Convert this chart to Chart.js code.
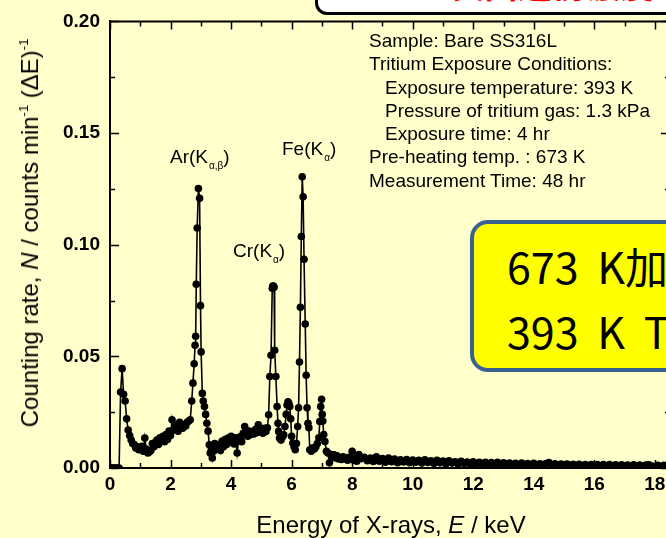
<!DOCTYPE html>
<html>
<head>
<meta charset="utf-8">
<script src="https://cdn.jsdelivr.net/npm/chart.js@4.4.1/dist/chart.umd.min.js"></script>
<style>
  body { margin: 0; background: #ffffcc; overflow: hidden; }
  #wrap { position: relative; width: 666px; height: 538px; overflow: hidden; background: #ffffcc; font-family: "Liberation Sans", Arial, sans-serif; }
  #c { position: absolute; left: 0; top: 0; }
  .lbl { position: absolute; white-space: nowrap; color: #000; font-size: 19px; line-height: 19px; }
  .lbl sub { font-size: 10px; vertical-align: -6px; margin-left: 1px; }
  #info { position: absolute; left: 369px; top: 29px; font-size: 19px; line-height: 23.3px; white-space: nowrap; }
  #info .in { padding-left: 16px; }
  #ytitle { position: absolute; left: 30px; top: 233px; transform: translate(-50%, -50%) rotate(-90deg); font-size: 24px; white-space: nowrap; }
  #ytitle sup { font-size: 13px; vertical-align: 10px; }
  #xtitle { position: absolute; left: 391px; top: 525px; transform: translate(-50%, -50%); font-size: 24px; white-space: nowrap; }
  #topbox { position: absolute; left: 315px; top: -40px; width: 420px; height: 55px; box-sizing: border-box; border: 3px solid #000; border-radius: 12px; background: #fff; }
  #topbox span { position: absolute; left: 132px; top: 4px; color: #f00; font: bold 34px/34px "Noto Sans CJK JP", sans-serif; white-space: nowrap; }
  #note { position: absolute; left: 470px; top: 220px; width: 260px; height: 152px; box-sizing: border-box; border: 4px solid #3c6190; border-radius: 18px; background: #ffff00; }
  #note div { position: absolute; left: 33px; font: 43px/43px "Noto Sans CJK JP", sans-serif; word-spacing: 9px; white-space: nowrap; color: #000; }
</style>
</head>
<body>
<div id="wrap">
  <canvas id="c" width="700" height="538"></canvas>

  <div id="topbox"><span>表面近傍濃度</span></div>

  <div id="info">
    Sample: Bare SS316L<br>
    Tritium Exposure Conditions:<br>
    <span class="in">Exposure temperature: 393 K</span><br>
    <span class="in">Pressure of tritium gas: 1.3 kPa</span><br>
    <span class="in">Exposure time: 4 hr</span><br>
    Pre-heating temp. : 673 K<br>
    Measurement Time: 48 hr
  </div>

  <div class="lbl" style="left:170px; top:147px;">Ar(K<sub>α,β</sub>)</div>
  <div class="lbl" style="left:282px; top:139px;">Fe(K<sub>α</sub>)</div>
  <div class="lbl" style="left:233px; top:241px;">Cr(K<sub>α</sub>)</div>

  <div id="note">
    <div style="top:20px;">673 K加熱後</div>
    <div style="top:85px;">393 K T-曝露</div>
  </div>

  <div id="ytitle">Counting rate, <i>N</i> / counts min<sup>-1</sup> (ΔE)<sup>-1</sup></div>
  <div id="xtitle">Energy of X-rays, <i>E</i> / keV</div>
</div>

<script>
// X-ray spectrum, energy (keV) and counting rate
const energy = [
  0.00, 0.05, 0.10, 0.15, 0.20, 0.25, 0.30, 0.35, 0.40, 0.45, 0.50, 0.55, 0.60, 0.65, 0.70, 0.75, 0.80, 0.85, 0.90, 0.95,
  1.00, 1.05, 1.10, 1.15, 1.20, 1.25, 1.30, 1.35, 1.40, 1.45, 1.50, 1.55, 1.60, 1.65, 1.70, 1.75, 1.80, 1.85, 1.90, 1.95,
  2.00, 2.05, 2.10, 2.15, 2.20, 2.25, 2.30, 2.35, 2.40, 2.45, 2.50, 2.55, 2.60, 2.65, 2.70, 2.74, 2.78, 2.81, 2.83, 2.85,
  2.88, 2.92, 2.96, 2.99, 3.01, 3.05, 3.08, 3.12, 3.16, 3.20, 3.24, 3.28, 3.31, 3.35, 3.38, 3.42, 3.46, 3.50, 3.55, 3.60,
  3.65, 3.70, 3.75, 3.80, 3.85, 3.90, 3.95, 4.00, 4.05, 4.10, 4.15, 4.20, 4.25, 4.30, 4.35, 4.40, 4.45, 4.50, 4.55, 4.60,
  4.65, 4.70, 4.75, 4.80, 4.85, 4.90, 4.95, 5.00, 5.05, 5.10, 5.15, 5.20, 5.24, 5.28, 5.32, 5.36, 5.38, 5.40, 5.42, 5.44,
  5.48, 5.52, 5.55, 5.57, 5.60, 5.65, 5.70, 5.74, 5.78, 5.82, 5.85, 5.88, 5.91, 5.94, 5.97, 6.00, 6.04, 6.08, 6.12, 6.16,
  6.20, 6.23, 6.26, 6.29, 6.32, 6.35, 6.38, 6.41, 6.45, 6.48, 6.51, 6.54, 6.57, 6.60, 6.65, 6.70, 6.75, 6.80, 6.85, 6.90,
  6.93, 6.96, 6.99, 7.01, 7.03, 7.06, 7.10, 7.15, 7.20, 7.25, 7.30, 7.35, 7.40, 7.45, 7.50, 7.55, 7.60, 7.65, 7.70, 7.75,
  7.80, 7.85, 7.90, 7.95, 8.00, 8.05, 8.10, 8.15, 8.22,
  8.3, 8.4, 8.5, 8.6, 8.7, 8.8, 8.9, 9.0, 9.1, 9.2, 9.3, 9.4, 9.5, 9.6, 9.7, 9.8, 9.9,
  10.0, 10.1, 10.2, 10.3, 10.4, 10.5, 10.6, 10.7, 10.8, 10.9, 11.0, 11.1, 11.2, 11.3, 11.4, 11.5, 11.6, 11.7, 11.8, 11.9,
  12.0, 12.1, 12.2, 12.3, 12.4, 12.5, 12.6, 12.7, 12.8, 12.9, 13.0, 13.1, 13.2, 13.3, 13.4, 13.5, 13.6, 13.7, 13.8, 13.9,
  14.0, 14.1, 14.2, 14.3, 14.4, 14.5, 14.6, 14.7, 14.8, 14.9, 15.0, 15.1, 15.2, 15.3, 15.4, 15.5, 15.6, 15.7, 15.8, 15.9,
  16.0, 16.1, 16.2, 16.3, 16.4, 16.5, 16.6, 16.7, 16.8, 16.9, 17.0, 17.1, 17.2, 17.3, 17.4, 17.5, 17.6, 17.7, 17.8, 17.9,
  18.0, 18.1, 18.2, 18.3, 18.4, 18.5
];
const counts = [
  0, 0, 0, 0, 0, 0, 0, 0.034, 0.0445, 0.033, 0.030, 0.022, 0.017, 0.0145, 0.0125, 0.011, 0.0105, 0.009, 0.0095, 0.0082,
  0.009, 0.0097, 0.0075, 0.0134, 0.0085, 0.0067, 0.0072, 0.0078, 0.011, 0.0095, 0.0115, 0.0125, 0.0105, 0.0135, 0.0125, 0.0142, 0.0118, 0.015, 0.0128, 0.0165,
  0.0145, 0.0216, 0.017, 0.0185, 0.0193, 0.0165, 0.0205, 0.019, 0.0178, 0.0195, 0.0188, 0.0205, 0.021, 0.0216, 0.030, 0.038, 0.0467, 0.055, 0.059, 0.0823,
  0.1075, 0.1252, 0.1208, 0.0727, 0.052, 0.0334, 0.030, 0.0275, 0.024, 0.020, 0.0165, 0.0104, 0.0067, 0.0084, 0.0045, 0.0075, 0.011, 0.009, 0.0088, 0.0104,
  0.0078, 0.012, 0.0095, 0.0127, 0.0105, 0.0134, 0.0115, 0.0142, 0.0122, 0.0108, 0.0135, 0.0067, 0.0125, 0.014, 0.0118, 0.0155, 0.0186, 0.0148, 0.0142, 0.0165,
  0.015, 0.016, 0.0152, 0.0172, 0.0158, 0.0193, 0.0165, 0.0172, 0.0156, 0.0178, 0.0164, 0.018, 0.0238, 0.041, 0.0505, 0.0805, 0.0815, 0.0815, 0.081, 0.0527,
  0.041, 0.0275, 0.020, 0.0164, 0.0134, 0.0125, 0.014, 0.0149, 0.0186, 0.024, 0.0282, 0.0297, 0.029, 0.0275, 0.022, 0.0142, 0.0112, 0.0095, 0.0082, 0.011,
  0.0186, 0.027, 0.0475, 0.072, 0.1037, 0.1304, 0.1215, 0.0935, 0.0645, 0.0415, 0.027, 0.020, 0.018, 0.0082, 0.0075, 0.009, 0.0085, 0.0095, 0.011, 0.0135,
  0.0208, 0.0275, 0.0308, 0.024, 0.021, 0.015, 0.0119, 0.0075, 0.0067, 0.0023, 0.006, 0.0052, 0.0059, 0.0045, 0.0055, 0.004, 0.0047, 0.0038, 0.005, 0.0042,
  0.0045, 0.0035, 0.0048, 0.004, 0.0075, 0.0035, 0.0045, 0.003, 0.006,
  0.0042, 0.0048, 0.0033, 0.0044, 0.0029, 0.005, 0.003, 0.0042, 0.0026, 0.0044, 0.0028, 0.004, 0.0024, 0.0037, 0.0027, 0.0038, 0.0024,
  0.0036, 0.0026, 0.0034, 0.0022, 0.0037, 0.0025, 0.0032, 0.002, 0.0034, 0.0023, 0.0031, 0.0019, 0.0032, 0.0022, 0.0028, 0.0018, 0.003, 0.002, 0.0027, 0.0017,
  0.0028, 0.0019, 0.0026, 0.0016, 0.0025, 0.0018, 0.0024, 0.0015, 0.0026, 0.0017, 0.0023, 0.0014, 0.0022, 0.0016, 0.0021, 0.0013, 0.0022, 0.0015, 0.002, 0.0012,
  0.0021, 0.0014, 0.0019, 0.0011, 0.002, 0.0024, 0.0014, 0.0019, 0.0011, 0.0018, 0.0013, 0.0018, 0.001, 0.0017, 0.0012, 0.0017, 0.0009, 0.0016, 0.0011, 0.0016,
  0.0009, 0.0015, 0.001, 0.0015, 0.0008, 0.0015, 0.0009, 0.0014, 0.0008, 0.0014, 0.0009, 0.0013, 0.0007, 0.0014, 0.0008, 0.0013, 0.0007, 0.0013, 0.0014, 0.0009,
  0.0007, 0.0012, 0.0007, 0.0012, 0.0006, 0.0011
];

// axis ranges and tick labels
const xMin = 0, xMax = 18.5, xStep = 2;
const yMin = 0, yMax = 0.2, yStep = 0.05;

const tickFont = { family: "'Liberation Sans', Arial, sans-serif", size: 19, weight: "bold" };

// inward ticks on all four sides + top/right frame
const frameTicks = {
  id: "frameTicks",
  beforeDatasetsDraw(chart) {
    const { ctx, chartArea: a, scales: { x, y } } = chart;
    ctx.save();
    ctx.strokeStyle = "#000";
    ctx.lineWidth = 2;
    ctx.beginPath();
    ctx.moveTo(a.left, a.top); ctx.lineTo(a.right, a.top); ctx.lineTo(a.right, a.bottom);
    ctx.stroke();
    ctx.lineWidth = 1.5;
    ctx.beginPath();
    for (let v = 0; v <= 18; v++) {
      const px = Math.round(x.getPixelForValue(v)) + 0.5;
      const len = v % 2 === 0 ? 8 : 5;
      ctx.moveTo(px, a.bottom); ctx.lineTo(px, a.bottom - len);
      ctx.moveTo(px, a.top); ctx.lineTo(px, a.top + len);
    }
    for (let k = 0; k <= 8; k++) {
      const py = Math.round(y.getPixelForValue(k * 0.025)) + 0.5;
      const len = k % 2 === 0 ? 9 : 5;
      ctx.moveTo(a.left, py); ctx.lineTo(a.left + len, py);
      ctx.moveTo(a.right, py); ctx.lineTo(a.right - len, py);
    }
    ctx.stroke();
    ctx.restore();
  }
};

new Chart(document.getElementById("c"), {
  type: "line",
  data: {
    datasets: [{
      data: energy.map((e, i) => ({ x: e, y: counts[i] })),
      borderColor: "#000",
      borderWidth: 1.6,
      pointRadius: 3.8,
      pointBackgroundColor: "#000",
      pointBorderWidth: 0,
      tension: 0
    }]
  },
  options: {
    responsive: false,
    animation: false,
    devicePixelRatio: 1,
    layout: { padding: { top: 18, right: 30, left: 0, bottom: 0 } },
    plugins: { legend: { display: false }, tooltip: { enabled: false } },
    scales: {
      x: {
        type: "linear", min: xMin, max: xMax,
        grid: { display: false, drawTicks: false },
        border: { display: true, color: "#000", width: 2 },
        ticks: { stepSize: xStep, includeBounds: false, padding: 5, color: "#000", font: tickFont, maxRotation: 0 },
        afterFit: s => { s.height = 70; }
      },
      y: {
        min: yMin, max: yMax,
        grid: { display: false, drawTicks: false },
        border: { display: true, color: "#000", width: 2 },
        ticks: { stepSize: yStep, padding: 10, color: "#000", font: tickFont, callback: v => v.toFixed(2) },
        afterFit: s => { s.width = 110; }
      }
    }
  },
  plugins: [frameTicks]
});
</script>
</body>
</html>
